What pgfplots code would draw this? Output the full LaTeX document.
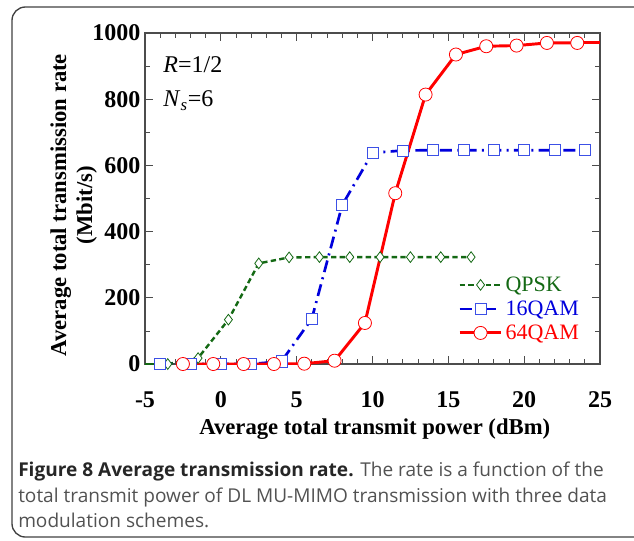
\documentclass[border=0pt]{standalone}
\usepackage{fontspec}
\setmainfont{Liberation Serif}
\newfontfamily\capfont{Open Sans}
\usepackage{pgfplots}
\pgfplotsset{compat=1.18}

\definecolor{qgreen}{RGB}{20,105,20}
\definecolor{qblue}{RGB}{0,0,220}
\definecolor{qbluem}{RGB}{60,80,230}
\definecolor{qred}{RGB}{255,0,0}

\begin{document}
\begin{tikzpicture}
\path[use as bounding box] (0,0) rectangle (475.5pt,-405pt);
\draw[black!75, line width=1pt, rounded corners=10pt] (9pt,-5.25pt) rectangle (495pt,-402.75pt);
\begin{axis}[
  at={(108.75pt,-273pt)}, anchor=south west,
  scale only axis, width=341.25pt, height=248.25pt,
  xmin=-5, xmax=25, ymin=0, ymax=1000,
  xtick={-5,0,5,10,15,20,25}, xticklabels={-5,0,5,10,15,20,25},
  ytick={0,200,400,600,800,1000}, yticklabels={0,200,400,600,800,1000},
  minor x tick num=4, minor y tick num=1,
  tick align=inside, major tick length=6pt, minor tick length=3.5pt,
  tick style={black!70, line width=0.6pt},
  axis line style={black!70, line width=0.8pt},
  ticklabel style={font=\fontsize{18}{18}\selectfont\bfseries},
  xticklabel style={yshift=-17pt},
  xlabel={Average total transmit power (dBm)},
  ylabel={Average total transmission rate\\(Mbit/s)},
  label style={font=\fontsize{17}{19.5}\selectfont\bfseries},
  xlabel style={at={(axis description cs:0.505,-0.196)}, anchor=center},
  ylabel style={at={(axis description cs:-0.157,0.48)}, anchor=center, align=center},
  legend style={at={(axis description cs:0.963,0.277)}, anchor=north east, draw=none, fill=none,
    font=\fontsize{16.5}{16.5}\selectfont, row sep=1.6pt, inner sep=1pt},
  legend cell align=left,
  legend image code/.code={\draw[mark repeat=2,mark phase=2] plot coordinates {(0cm,0cm) (0.55cm,0cm) (1.1cm,0cm)};},
]
\addplot[qgreen, line width=1.8pt, dash pattern=on 4pt off 2.5pt, mark=diamond*, mark size=4pt,
  mark options={solid, fill=white, draw=qgreen, line width=0.6pt}]
  coordinates {(-3.5,0) (-1.5,18) (0.5,134) (2.5,304) (4.5,322) (6.5,323) (8.5,323) (10.5,323) (12.5,323) (14.5,323) (16.5,323)};
\addlegendentry{\textcolor{qgreen}{QPSK}}
\addplot[qblue, line width=2pt, dash pattern=on 9pt off 4pt on 1.5pt off 4pt, mark=square*, mark size=4.2pt,
  mark options={solid, fill=white, draw=qbluem, line width=0.6pt}]
  coordinates {(-4,0) (-2,0) (0,0) (2,0) (4,8) (6,137) (8,480) (10,638) (12,645) (14,646) (16,646) (18,646) (20,646) (22,646) (24,646)};
\addlegendentry{\textcolor{qblue}{16QAM}}
\addplot[qred, line width=2.2pt, mark=*, mark size=4.9pt,
  mark options={solid, fill=white, draw=qred, line width=0.6pt}]
  coordinates {(-2.5,0) (-0.5,0) (1.5,0) (3.5,0) (5.5,1) (7.5,10) (9.5,124) (11.5,516) (13.5,814) (15.5,935) (17.5,960) (19.5,962) (21.5,970) (23.5,970)};
\addlegendentry{\textcolor{qred}{64QAM}}
\addplot[qgreen, line width=1.8pt, forget plot] coordinates {(-5,0) (-3.5,0)};
\addplot[qred, line width=2.2pt, forget plot] coordinates {(23.5,970) (25,970)};
\node[anchor=west, font=\fontsize{18}{18}\selectfont, inner sep=0] at (axis description cs:0.04,0.903) {\textit{R}=1/2};
\node[anchor=west, font=\fontsize{18}{18}\selectfont, inner sep=0] at (axis description cs:0.04,0.795) {\textit{N}\textsubscript{\textit{s}}=6};
\end{axis}
\node[anchor=base west, font=\capfont\fontsize{14.3}{15}\selectfont, text=black!68, inner sep=0] at (13.5pt,-357pt)
  {\textbf{\textcolor{black!85}{Figure 8 Average transmission rate.}} The rate is a function of the};
\node[anchor=base west, font=\capfont\fontsize{14.3}{15}\selectfont, text=black!68, inner sep=0] at (13.5pt,-376.5pt)
  {total transmit power of DL MU-MIMO transmission with three data};
\node[anchor=base west, font=\capfont\fontsize{14.3}{15}\selectfont, text=black!68, inner sep=0] at (13.5pt,-395.25pt)
  {modulation schemes.};
\end{tikzpicture}
\end{document}
